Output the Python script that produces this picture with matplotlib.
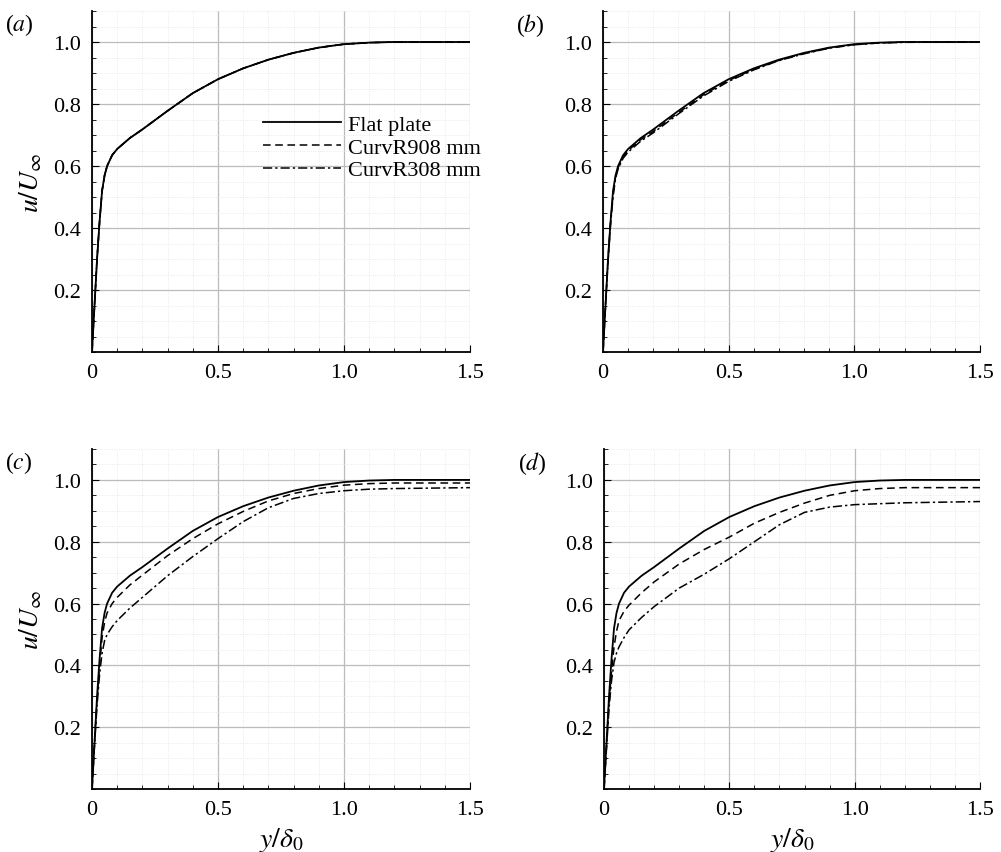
import numpy as np
import matplotlib
matplotlib.use("Agg")
import matplotlib.pyplot as plt
from matplotlib.ticker import MultipleLocator

plt.rcParams["font.family"] = ["Liberation Serif", "DejaVu Serif"]
plt.rcParams["mathtext.fontset"] = "stix"

# y/delta0 sample points
y_pts = [0, 0.01, 0.02, 0.03, 0.04, 0.05, 0.06, 0.08, 0.1, 0.15, 0.2, 0.3,
         0.4, 0.5, 0.6, 0.7, 0.8, 0.9, 1.0, 1.1, 1.2, 1.5]

flat = [0, 0.15, 0.30, 0.42, 0.52, 0.57, 0.60, 0.635, 0.655, 0.69, 0.718, 0.778,
        0.835, 0.88, 0.915, 0.943, 0.965, 0.982, 0.993, 0.998, 1.0, 1.0]

# panel (a): all curves collapse
a_908 = flat
a_308 = flat
# panel (b)
b_908 = [0, 0.15, 0.30, 0.42, 0.51, 0.565, 0.595, 0.63, 0.65, 0.685, 0.712, 0.772,
         0.83, 0.876, 0.912, 0.941, 0.963, 0.981, 0.992, 0.997, 1.0, 1.0]
b_308 = [0, 0.15, 0.29, 0.41, 0.50, 0.56, 0.59, 0.625, 0.645, 0.68, 0.707, 0.768,
         0.826, 0.873, 0.91, 0.94, 0.962, 0.98, 0.991, 0.997, 0.999, 1.0]
# panel (c)
c_908 = [0, 0.15, 0.29, 0.40, 0.49, 0.54, 0.57, 0.60, 0.62, 0.66, 0.692, 0.755,
         0.81, 0.858, 0.898, 0.932, 0.956, 0.972, 0.983, 0.988, 0.99, 0.99]
c_308 = [0, 0.14, 0.27, 0.37, 0.44, 0.48, 0.50, 0.525, 0.545, 0.585, 0.62, 0.69,
         0.752, 0.81, 0.865, 0.91, 0.94, 0.956, 0.965, 0.97, 0.972, 0.975]
# panel (d)
d_908 = [0, 0.14, 0.28, 0.38, 0.46, 0.51, 0.545, 0.575, 0.595, 0.635, 0.67, 0.728,
         0.775, 0.815, 0.86, 0.895, 0.925, 0.95, 0.965, 0.972, 0.975, 0.975]
d_308 = [0, 0.13, 0.26, 0.35, 0.41, 0.44, 0.46, 0.49, 0.515, 0.555, 0.59, 0.65,
         0.695, 0.745, 0.80, 0.855, 0.895, 0.912, 0.92, 0.923, 0.926, 0.93]

panels = [("a", flat, a_908, a_308), ("b", flat, b_908, b_308),
          ("c", flat, c_908, c_308), ("d", flat, d_908, d_308)]

fig = plt.figure(figsize=(10.01, 8.53), dpi=100)
W, H = 1001, 853
boxes = [(92, 12, 470, 353), (603, 12, 980, 353),
         (92, 450, 470, 790), (604, 450, 980, 790)]

for (lab, fp, c908, c308), (l, t, r, b) in zip(panels, boxes):
    ax = fig.add_axes([l / W, 1 - b / H, (r - l) / W, (b - t) / H])
    ax.plot(y_pts, fp, "k-", lw=1.3, label="Flat plate")
    ax.plot(y_pts, c908, color="k", ls=(0, (5, 3)), lw=1.1, label="CurvR908 mm")
    ax.plot(y_pts, c308, color="k", ls=(0, (6, 2, 1.5, 2)), lw=1.1, label="CurvR308 mm")
    ax.set_xlim(0, 1.5)
    ax.set_ylim(0, 1.1)
    ax.xaxis.set_major_locator(MultipleLocator(0.5))
    ax.xaxis.set_minor_locator(MultipleLocator(0.1))
    ax.yaxis.set_major_locator(MultipleLocator(0.2))
    ax.yaxis.set_minor_locator(MultipleLocator(0.05))
    ax.grid(which="major", color="#bbbbbb", lw=0.9)
    ax.grid(which="minor", color="#e3e3e3", lw=0.6, ls=":")
    ax.set_axisbelow(True)
    for s in ("top", "right"):
        ax.spines[s].set_visible(False)
    ax.spines["left"].set_linewidth(1.3)
    ax.spines["bottom"].set_linewidth(1.3)
    ax.tick_params(which="both", direction="in", labelsize=16, top=False, right=False)
    ax.tick_params(which="major", length=5)
    ax.tick_params(which="minor", length=3)
    ax.set_xticks([0, 0.5, 1.0, 1.5])
    ax.set_xticklabels(["0", "0.5", "1.0", "1.5"])
    ax.set_yticks([0.2, 0.4, 0.6, 0.8, 1.0])
    ax.set_yticklabels(["0.2", "0.4", "0.6", "0.8", "1.0"])
    ax.tick_params(axis="x", pad=8)
    ax.tick_params(axis="y", pad=8)
    ax.text(-0.23, 1.0, "(" + r"$\it{" + lab + "}$" + ")", transform=ax.transAxes,
            fontsize=17, va="top")
    if lab in ("a", "c"):
        ax.set_ylabel(r"$u/U_\infty$", fontsize=20, labelpad=6)
    if lab in ("c", "d"):
        ax.set_xlabel(r"$y/\delta_0$", fontsize=20, labelpad=4)
    if lab == "a":
        ax.legend(loc="center left", bbox_to_anchor=(0.43, 0.6), frameon=False,
                  fontsize=16, handlelength=3.5, handletextpad=0.3,
                  labelspacing=0.1, borderaxespad=0)

fig.savefig("out.png", dpi=100)
